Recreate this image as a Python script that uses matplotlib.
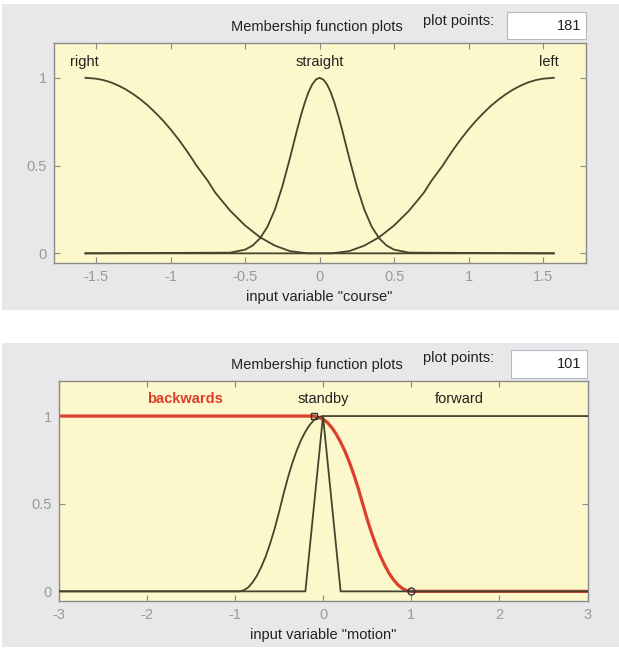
import matplotlib
matplotlib.use("Agg")
import matplotlib.pyplot as plt
from matplotlib.patches import Rectangle
from matplotlib.ticker import FuncFormatter

plt.rcParams['font.family'] = ['Liberation Sans', 'DejaVu Sans']
plt.rcParams['axes.unicode_minus'] = False

# --- input variable "course" ---
course_labels = ["right", "straight", "left"]
course_right_x = [-1.571, -1.5, -1.45, -1.4, -1.35, -1.3, -1.25, -1.2, -1.15, -1.1, -1.05,
                  -1.0, -0.95, -0.9, -0.85, -0.826, -0.75, -0.7, -0.6, -0.5, -0.4, -0.3,
                  -0.2, -0.08, 1.571]
course_right_y = [1.0, 0.995, 0.987, 0.974, 0.956, 0.934, 0.907, 0.876, 0.841, 0.800, 0.756,
                  0.707, 0.653, 0.595, 0.532, 0.5, 0.413, 0.346, 0.243, 0.159, 0.092, 0.044,
                  0.013, 0.0, 0.0]
course_straight_x = [-1.571, -0.6, -0.5, -0.45, -0.4, -0.35, -0.3, -0.25, -0.2, -0.175,
                     -0.15, -0.125, -0.1, -0.075, -0.05, -0.025, 0.0, 0.025, 0.05, 0.075,
                     0.1, 0.125, 0.15, 0.175, 0.2, 0.25, 0.3, 0.35, 0.4, 0.45, 0.5, 0.6, 1.571]
course_straight_y = [0.0, 0.004, 0.021, 0.044, 0.085, 0.151, 0.249, 0.381, 0.539, 0.623,
                     0.707, 0.786, 0.857, 0.917, 0.962, 0.990, 1.0, 0.990, 0.962, 0.917,
                     0.857, 0.786, 0.707, 0.623, 0.539, 0.381, 0.249, 0.151, 0.085, 0.044,
                     0.021, 0.004, 0.0]
course_left_x = [-1.571, 0.08, 0.2, 0.3, 0.4, 0.5, 0.6, 0.7, 0.75, 0.826, 0.85, 0.9, 0.95,
                 1.0, 1.05, 1.1, 1.15, 1.2, 1.25, 1.3, 1.35, 1.4, 1.45, 1.5, 1.571]
course_left_y = [0.0, 0.0, 0.013, 0.044, 0.092, 0.159, 0.243, 0.346, 0.413, 0.5, 0.532,
                 0.595, 0.653, 0.707, 0.756, 0.800, 0.841, 0.876, 0.907, 0.934, 0.956,
                 0.974, 0.987, 0.995, 1.0]
course_xticks = [-1.5, -1, -0.5, 0, 0.5, 1, 1.5]

# --- input variable "motion" ---
motion_labels = ["backwards", "standby", "forward"]
backwards_x = [-3, -0.1, 0.0, 0.05, 0.1, 0.15, 0.2, 0.25, 0.3, 0.35, 0.4, 0.45, 0.5, 0.55,
               0.6, 0.65, 0.7, 0.75, 0.8, 0.85, 0.9, 0.95, 1.0, 3]
backwards_y = [1, 1, 0.983, 0.963, 0.934, 0.897, 0.851, 0.798, 0.736, 0.665, 0.587, 0.5,
               0.413, 0.335, 0.264, 0.203, 0.149, 0.103, 0.066, 0.037, 0.017, 0.004, 0.0, 0.0]
backwards_params = [-0.1, 1.0]
standby_x = [-3, -0.2, 0.0, 0.2, 3]
standby_y = [0, 0, 1, 0, 0]
forward_x = [-3, -0.95, -0.9, -0.85, -0.8, -0.75, -0.7, -0.65, -0.6, -0.55, -0.5, -0.475,
             -0.45, -0.4, -0.35, -0.3, -0.25, -0.2, -0.15, -0.1, -0.05, 0.0, 3]
forward_y = [0, 0, 0.006, 0.022, 0.050, 0.089, 0.139, 0.199, 0.272, 0.355, 0.449, 0.5,
             0.551, 0.645, 0.729, 0.801, 0.862, 0.911, 0.950, 0.978, 0.995, 1.0, 1.0]
motion_xticks = [-3, -2, -1, 0, 1, 2, 3]

W, H = 619, 648
PANEL = '#e8e8ea'
AXBG = '#fcf8cb'
LINE = '#45452f'
RED = '#dc3f2a'
TICKCOL = '#9a9a9a'
FS = 10.5


def rect(x0, y0, x1, y1):
    # pixel box (top-left origin) -> figure fraction
    return [x0 / W, 1 - y1 / H, (x1 - x0) / W, (y1 - y0) / H]


def panel(fig, panel_px, ax_px, box_px, title_y, pts_y, points, xlim, xticks, xlabel):
    p = rect(*panel_px)
    fig.add_artist(Rectangle(p[:2], p[2], p[3], transform=fig.transFigure,
                             facecolor=PANEL, edgecolor='none', zorder=-5))
    b = rect(*box_px)
    fig.add_artist(Rectangle(b[:2], b[2], b[3], transform=fig.transFigure,
                             facecolor='white', edgecolor='#b8b8c0', lw=0.8, zorder=-4))
    fig.text((box_px[2] - 5) / W, 1 - (box_px[1] + box_px[3]) / 2 / H, points,
             ha='right', va='center', fontsize=FS, color='#222222')
    fig.text(317 / W, 1 - title_y / H, "Membership function plots",
             ha='center', va='center', fontsize=FS, color='#222222')
    fig.text(459 / W, 1 - pts_y / H, "plot points:",
             ha='center', va='center', fontsize=FS, color='#222222')

    ax = fig.add_axes(rect(*ax_px))
    ax.set_facecolor(AXBG)
    ax.set_xlim(*xlim)
    ax.set_ylim(-0.055, 1.2)
    ax.set_xticks(xticks)
    ax.set_yticks([0, 0.5, 1])
    fmt = FuncFormatter(lambda v, p: "%g" % v)
    ax.xaxis.set_major_formatter(fmt)
    ax.yaxis.set_major_formatter(fmt)
    ax.tick_params(direction='in', top=True, right=True, length=4, width=0.8,
                   color='#8a8a8a', labelcolor=TICKCOL, labelsize=FS, pad=5)
    for s in ax.spines.values():
        s.set_color('#8a8a8a')
        s.set_linewidth(1.0)
    ax.set_xlabel(xlabel, fontsize=FS, color='#222222', labelpad=4)
    return ax


fig = plt.figure(figsize=(W / 100, H / 100), dpi=100)
fig.patch.set_facecolor('white')

# top panel: course
ax1 = panel(fig, (2, 4, 619, 310), (53.5, 42.7, 585.7, 263), (507, 12, 586, 39),
            27, 21, "181", (-1.785, 1.785), course_xticks, 'input variable "course"')
for xs, ys in [(course_right_x, course_right_y), (course_straight_x, course_straight_y),
               (course_left_x, course_left_y)]:
    ax1.plot(xs, ys, color=LINE, lw=1.3)
for lab, xpos in zip(course_labels, [-1.58, 0.0, 1.54]):
    ax1.text(xpos, 1.09, lab, ha='center', va='center', fontsize=FS, color='#222222')

# bottom panel: motion
ax2 = panel(fig, (2, 343, 619, 647), (58.5, 381, 587.5, 601), (510.7, 350, 586.7, 377.7),
            365, 358, "101", (-3, 3), motion_xticks, 'input variable "motion"')
ax2.plot(backwards_x, backwards_y, color=RED, lw=2.3, zorder=2)
ax2.plot(standby_x, standby_y, color=LINE, lw=1.3, zorder=3)
ax2.plot(forward_x, forward_y, color=LINE, lw=1.3, zorder=3)
ax2.plot(backwards_params[0], 1, marker='s', ms=5, mfc='none', mec='#333333', mew=1.0, zorder=4)
ax2.plot(backwards_params[1], 0, marker='o', ms=5, mfc='none', mec='#333333', mew=1.0, zorder=4)
for lab, xpos in zip(motion_labels, [-1.56, 0.0, 1.55]):
    bold = lab == "backwards"
    ax2.text(xpos, 1.10, lab, ha='center', va='center', fontsize=FS,
             color=RED if bold else '#222222', fontweight='bold' if bold else 'normal')

fig.savefig("out.png", dpi=100)
